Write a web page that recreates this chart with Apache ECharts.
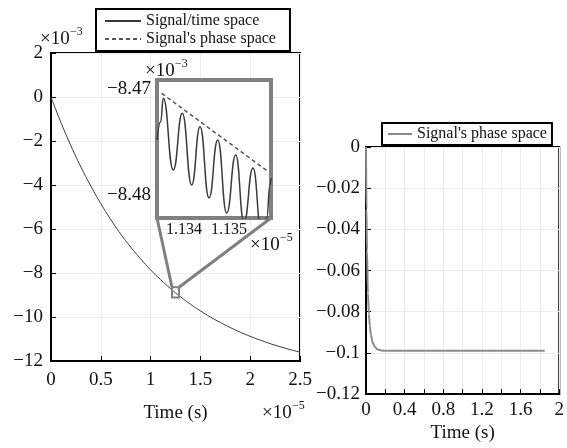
<!DOCTYPE html>
<html><head><meta charset="utf-8">
<script src="https://cdn.jsdelivr.net/npm/echarts@6/dist/echarts.min.js"></script>
<style>html,body{margin:0;padding:0;background:#fff}#c{width:567px;height:448px}</style>
</head><body><div id="c"></div>
<script>
// ---- Data ----
// Main plot: time in x10^-5 s, signal in x10^-3
const mainTime   = [0,0.1,0.2,0.3,0.4,0.5,0.6,0.7,0.8,0.9,1.0,1.1,1.2,1.3,1.4,1.5,1.6,1.7,1.8,1.9,2.0,2.1,2.2,2.3,2.4,2.5];
const mainSignal = [0,-1.16,-2.22,-3.18,-4.05,-4.85,-5.57,-6.23,-6.82,-7.36,-7.86,-8.30,-8.71,-9.08,-9.42,-9.72,-10.00,-10.25,-10.48,-10.69,-10.88,-11.05,-11.21,-11.35,-11.48,-11.60];
// Inset (zoom): time in x10^-5 s, signal in x10^-3
const insetTime   = [1.133400,1.133482,1.133540,1.133762,1.133962,1.134171,1.134356,1.134556,1.134749,1.134949,1.135149,1.135333,1.135533,1.135722,1.135838,1.135911,1.135933];
const insetSignal = [-8.47481,-8.47309,-8.47088,-8.47764,-8.47229,-8.47906,-8.47356,-8.48028,-8.47481,-8.48170,-8.47623,-8.48255,-8.47745,-8.48349,-8.48217,-8.47906,-8.47840];
const envelopeTime   = [1.133504,1.135873];
const envelopeSignal = [-8.47041,-8.47780];
// Right plot: phase space
const phaseTime   = [0,0.005,0.01,0.02,0.03,0.04,0.05,0.07,0.09,0.12,0.16,0.2,0.3,0.5,0.8,1.2,1.6,1.85];
const phaseSignal = [0,-0.03,-0.05,-0.071,-0.081,-0.087,-0.091,-0.095,-0.097,-0.0983,-0.0988,-0.099,-0.099,-0.099,-0.099,-0.099,-0.099,-0.099];
// Axis ranges / ticks
const mainX = {min:0, max:2.5, interval:0.5};
const mainY = {min:-12, max:2, interval:2};
const insetX = {min:1.1334, max:1.135933, ticks:[1.134,1.135]};
const insetY = {min:-8.48217, max:-8.46915, ticks:[-8.48,-8.47]};
const phaseX = {min:0, max:2, interval:0.2};
const phaseY = {min:-0.12, max:0, interval:0.02};
// zoom marker box on the main curve
const zoomBoxTime = [1.215,1.285];
const zoomBoxSignal = [-9.11,-8.65];

const FONT = 'Liberation Serif';
const minus = s => String(s).replace('-', '\u2212');
const zip = (a,b) => a.map((v,i)=>[v,b[i]]);
const faint = {show:true, lineStyle:{color:'#ececec', width:1}};

const chart = echarts.init(document.getElementById('c'), null, {renderer:'canvas'});
const option = {
  backgroundColor:'#fff',
  animation:false,
  textStyle:{fontFamily:FONT},
  grid:[
    {left:51, top:53, right:267, bottom:87, show:true, borderColor:'#000', borderWidth:2},
    {left:157, top:80, right:296, bottom:230, show:true, borderColor:'#808080', borderWidth:4, backgroundColor:'#fff', z:5},
    {left:366, top:147, right:7, bottom:48, show:true, borderColor:'#000', borderWidth:2}
  ],
  xAxis:[
    {gridIndex:0, type:'value', min:mainX.min, max:mainX.max, interval:mainX.interval,
     axisLine:{onZero:false, lineStyle:{color:'#000', width:2}}, axisTick:{inside:true, length:5, lineStyle:{color:'#000'}},
     axisLabel:{color:'#111', fontSize:19, fontFamily:FONT, margin:10}, splitLine:faint,
     name:'Time (s)', nameLocation:'middle', nameGap:43, nameTextStyle:{color:'#111', fontSize:19, fontFamily:FONT}},
    {gridIndex:1, type:'value', min:insetX.min, max:insetX.max, z:10,
     axisLine:{show:false, onZero:false}, axisTick:{show:false}, splitLine:{show:false},
     axisLabel:{customValues:insetX.ticks, color:'#111', fontSize:16, fontFamily:FONT, margin:4, formatter:v=>v.toFixed(3)}},
    {gridIndex:2, type:'value', min:phaseX.min, max:phaseX.max, interval:phaseX.interval,
     axisLine:{onZero:false, lineStyle:{color:'#000', width:2}}, axisTick:{inside:true, length:5, lineStyle:{color:'#000'}},
     axisLabel:{color:'#111', fontSize:19, fontFamily:FONT, margin:6,
       formatter:v=>{const k=Math.round(v*10); return k%4===0 ? String(k/10) : '';}}, splitLine:faint,
     name:'Time (s)', nameLocation:'middle', nameGap:27, nameTextStyle:{color:'#111', fontSize:19, fontFamily:FONT}}
  ],
  yAxis:[
    {gridIndex:0, type:'value', min:mainY.min, max:mainY.max, interval:mainY.interval,
     axisLine:{onZero:false, lineStyle:{color:'#000', width:2}}, axisTick:{inside:true, length:5, lineStyle:{color:'#000'}},
     axisLabel:{color:'#111', fontSize:19, fontFamily:FONT, margin:8, formatter:v=>minus(v)}, splitLine:faint},
    {gridIndex:1, type:'value', min:insetY.min, max:insetY.max, z:10,
     axisLine:{show:false, onZero:false}, axisTick:{show:false}, splitLine:{show:false},
     axisLabel:{customValues:insetY.ticks, color:'#111', fontSize:19, fontFamily:FONT, margin:6, formatter:v=>minus(v.toFixed(2))}},
    {gridIndex:2, type:'value', min:phaseY.min, max:phaseY.max, interval:phaseY.interval,
     axisLine:{onZero:false, lineStyle:{color:'#000', width:2}}, axisTick:{inside:true, length:5, lineStyle:{color:'#000'}},
     axisLabel:{color:'#111', fontSize:19, fontFamily:FONT, margin:6, formatter:v=>minus(+v.toFixed(2))}, splitLine:faint}
  ],
  legend:[
    {data:['Signal/time space', "Signal's phase space"], orient:'vertical', left:96, top:9,
     padding:[4,14,4,8], itemGap:2, itemWidth:36, itemHeight:14, selectedMode:false,
     itemStyle:{opacity:0},
     backgroundColor:'#fff', borderColor:'#000', borderWidth:2,
     textStyle:{fontFamily:FONT, fontSize:16, color:'#111', lineHeight:16}},
    {data:['phaseRight'], orient:'horizontal', left:382, top:123,
     padding:[3,5,3,5], itemWidth:24, itemHeight:14, selectedMode:false,
     itemStyle:{opacity:0},
     backgroundColor:'#fff', borderColor:'#000', borderWidth:2,
     formatter:()=>"Signal's phase space",
     textStyle:{fontFamily:FONT, fontSize:16, color:'#111', lineHeight:16}}
  ],
  series:[
    {name:'Signal/time space', type:'line', xAxisIndex:0, yAxisIndex:0, data:zip(mainTime, mainSignal),
     smooth:true, symbol:'none', lineStyle:{color:'#3a3a3a', width:1}, itemStyle:{color:'#3a3a3a'}},
    {name:'Signal/time space', type:'line', xAxisIndex:1, yAxisIndex:1, data:zip(insetTime, insetSignal), z:10,
     smooth:0.5, smoothMonotone:'x', symbol:'none', lineStyle:{color:'#3a3a3a', width:1.5}, itemStyle:{color:'#3a3a3a'}},
    {name:"Signal's phase space", type:'line', xAxisIndex:1, yAxisIndex:1, data:zip(envelopeTime, envelopeSignal), z:10,
     symbol:'none', lineStyle:{color:'#555', width:1.5, type:[4,3]}, itemStyle:{color:'#555'}},
    {name:'phaseRight', type:'line', xAxisIndex:2, yAxisIndex:2, data:zip(phaseTime, phaseSignal),
     smooth:0.3, smoothMonotone:'x', symbol:'none', lineStyle:{color:'#8a8a8a', width:2}, itemStyle:{color:'#8a8a8a'}}
  ]
};
chart.setOption(option);

// Annotations: zoom marker square, connector lines and exponent labels
const bl = chart.convertToPixel({gridIndex:1}, [insetX.min, insetY.min]);
const br = chart.convertToPixel({gridIndex:1}, [insetX.max, insetY.min]);
const sqTL = chart.convertToPixel({gridIndex:0}, [zoomBoxTime[0], zoomBoxSignal[1]]);
const sqBR = chart.convertToPixel({gridIndex:0}, [zoomBoxTime[1], zoomBoxSignal[0]]);
const gray = '#808080';
function expo(x, y, base, sup) {
  return {type:'group', left:x, top:y, z:30, children:[
    {type:'text', x:0, y:0, style:{text:base, font:'19px "'+FONT+'"', fill:'#111'}},
    {type:'text', x:30, y:-4, style:{text:sup, font:'12px "'+FONT+'"', fill:'#111'}}
  ]};
}
chart.setOption({graphic:[
  {type:'line', z:20, shape:{x1:bl[0], y1:bl[1], x2:sqTL[0], y2:sqTL[1]}, style:{stroke:gray, lineWidth:3}},
  {type:'line', z:20, shape:{x1:br[0], y1:br[1], x2:sqBR[0], y2:sqTL[1]}, style:{stroke:gray, lineWidth:3}},
  {type:'rect', z:20, shape:{x:sqTL[0], y:sqTL[1], width:sqBR[0]-sqTL[0], height:sqBR[1]-sqTL[1]}, style:{stroke:gray, lineWidth:2, fill:null}},
  expo(40, 26, '\u00d710', '\u22123'),
  expo(145, 58, '\u00d710', '\u22123'),
  expo(250, 232, '\u00d710', '\u22125'),
  expo(262, 400, '\u00d710', '\u22125')
]});
</script>
</body></html>
